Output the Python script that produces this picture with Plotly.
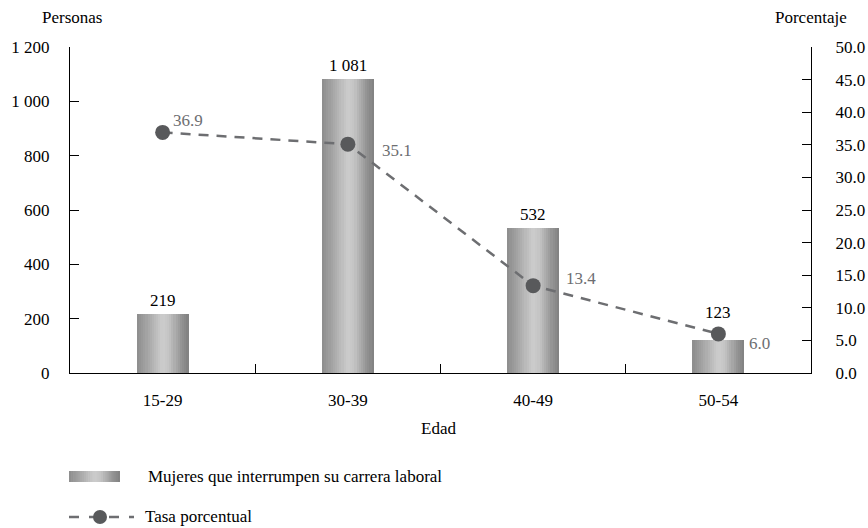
import plotly.graph_objects as go

categories = ["15-29", "30-39", "40-49", "50-54"]
personas = [219, 1081, 532, 123]
personas_labels = ["219", "1 081", "532", "123"]
tasa = [36.9, 35.1, 13.4, 6.0]
left_ticks = [0, 200, 400, 600, 800, 1000, 1200]
left_ticktext = ["0", "200", "400", "600", "800", "1 000", "1 200"]
right_ticks = [0, 5, 10, 15, 20, 25, 30, 35, 40, 45, 50]

# label offsets (pixels) -- styling only
tasa_label_dx = [25, 49, 48, 41]
tasa_label_dy = [-12, 6, -7, 10]
bar_label_dy = [2, 2, 2, 16]

FONT = "Liberation Serif, Times New Roman, serif"
LINE_COLOR = "#6d6e71"
MARK_COLOR = "#58595b"

grad = [
    (0.00, (140, 140, 140)),
    (0.20, (165, 165, 165)),
    (0.50, (205, 205, 205)),
    (0.62, (196, 196, 196)),
    (0.85, (150, 150, 150)),
    (1.00, (128, 128, 128)),
]


def grad_color(t):
    for (t0, c0), (t1, c1) in zip(grad[:-1], grad[1:]):
        if t0 <= t <= t1:
            f = (t - t0) / (t1 - t0) if t1 > t0 else 0
            c = [round(a + (b - a) * f) for a, b in zip(c0, c1)]
            return "rgb(%d,%d,%d)" % tuple(c)
    return "rgb(%d,%d,%d)" % grad[-1][1]


fig = go.Figure()

BAR_W = 0.28
N = 24
sw = BAR_W / N
for i in range(N):
    t = (i + 0.5) / N
    fig.add_trace(go.Bar(
        x=categories, y=personas,
        width=sw * (1.0 if i == N - 1 else 1.3),
        offset=-BAR_W / 2 + i * sw,
        marker=dict(color=grad_color(t), line=dict(width=0)),
        showlegend=False, hoverinfo="skip", yaxis="y",
    ))

fig.add_trace(go.Scatter(
    x=categories, y=tasa, yaxis="y2", mode="lines+markers",
    line=dict(color=LINE_COLOR, width=2.5, dash="10px,8px"),
    marker=dict(color=MARK_COLOR, size=15),
    showlegend=False,
))

annotations = []
for c, v, lab, dy in zip(categories, personas, personas_labels, bar_label_dy):
    annotations.append(dict(x=c, y=v, yref="y", text=lab, showarrow=False,
                            xanchor="center", yanchor="bottom", yshift=dy,
                            font=dict(family=FONT, size=17, color="#000")))
for c, v, dx, dy in zip(categories, tasa, tasa_label_dx, tasa_label_dy):
    annotations.append(dict(x=c, y=v, yref="y2", text="%.1f" % v, showarrow=False,
                            xanchor="center", yanchor="middle",
                            xshift=dx, yshift=-dy,
                            font=dict(family=FONT, size=17, color=LINE_COLOR)))

L, R, T, B = 70, 811, 47, 373
W, H = R - L, B - T


def px(x):
    return (x - L) / W


def py(y):
    return (B - y) / H


def text_ann(x, y, s, anchor="center"):
    return dict(x=px(x), y=py(y), xref="paper", yref="paper", text=s, showarrow=False,
                xanchor=anchor, yanchor="middle",
                font=dict(family=FONT, size=17, color="#000"))


annotations += [
    text_ann(72, 17, "Personas"),
    text_ann(811, 17, "Porcentaje"),
    text_ann(438, 428, "Edad"),
    text_ann(146, 476, "Mujeres que interrumpen su carrera laboral", "left"),
    text_ann(143, 516, "Tasa porcentual", "left"),
]

shapes = []
NL = 24
lx0, lx1 = 69, 120
for i in range(NL):
    a = lx0 + (lx1 - lx0) * i / NL
    b = lx0 + (lx1 - lx0) * (i + 1.3) / NL if i < NL - 1 else lx1
    shapes.append(dict(type="rect", xref="paper", yref="paper",
                       x0=px(a), x1=px(b), y0=py(482), y1=py(471),
                       line=dict(width=0), fillcolor=grad_color((i + 0.5) / NL)))
shapes.append(dict(type="line", xref="paper", yref="paper",
                   x0=px(69), x1=px(134), y0=py(517), y1=py(517),
                   line=dict(color=LINE_COLOR, width=2.5, dash="10px,10px")))
shapes.append(dict(type="circle", xref="paper", yref="paper",
                   x0=px(93), x1=px(107), y0=py(524), y1=py(510),
                   line=dict(width=0), fillcolor=MARK_COLOR))

fig.update_layout(
    width=868, height=528,
    margin=dict(l=L, r=868 - R, t=T, b=528 - B, autoexpand=False),
    paper_bgcolor="white", plot_bgcolor="white",
    barmode="overlay", bargap=0,
    showlegend=False,
    font=dict(family=FONT, size=17, color="#000"),
    xaxis=dict(
        type="category", showline=True, linecolor="#000", linewidth=1.2,
        ticks="inside", tickson="boundaries", ticklen=9, tickcolor="#000",
        showgrid=False, ticklabelstandoff=11,
        tickfont=dict(family=FONT, size=17), range=[-0.5, 3.5],
    ),
    yaxis=dict(
        range=[0, 1200], tickvals=left_ticks, ticktext=left_ticktext,
        showline=True, linecolor="#000", linewidth=1.2,
        ticks="inside", ticklen=9, tickcolor="#000", showgrid=False, zeroline=False,
        ticklabelstandoff=16, tickfont=dict(family=FONT, size=17),
    ),
    yaxis2=dict(
        range=[0, 50], tickvals=right_ticks, tickformat=".1f",
        overlaying="y", side="right",
        showline=True, linecolor="#000", linewidth=1.2,
        ticks="inside", ticklen=9, tickcolor="#000", showgrid=False, zeroline=False,
        ticklabelstandoff=20, tickfont=dict(family=FONT, size=17),
    ),
    annotations=annotations, shapes=shapes,
)

fig.write_html("out.html", config={"displayModeBar": False},
               post_script="document.body.style.margin='0';")
